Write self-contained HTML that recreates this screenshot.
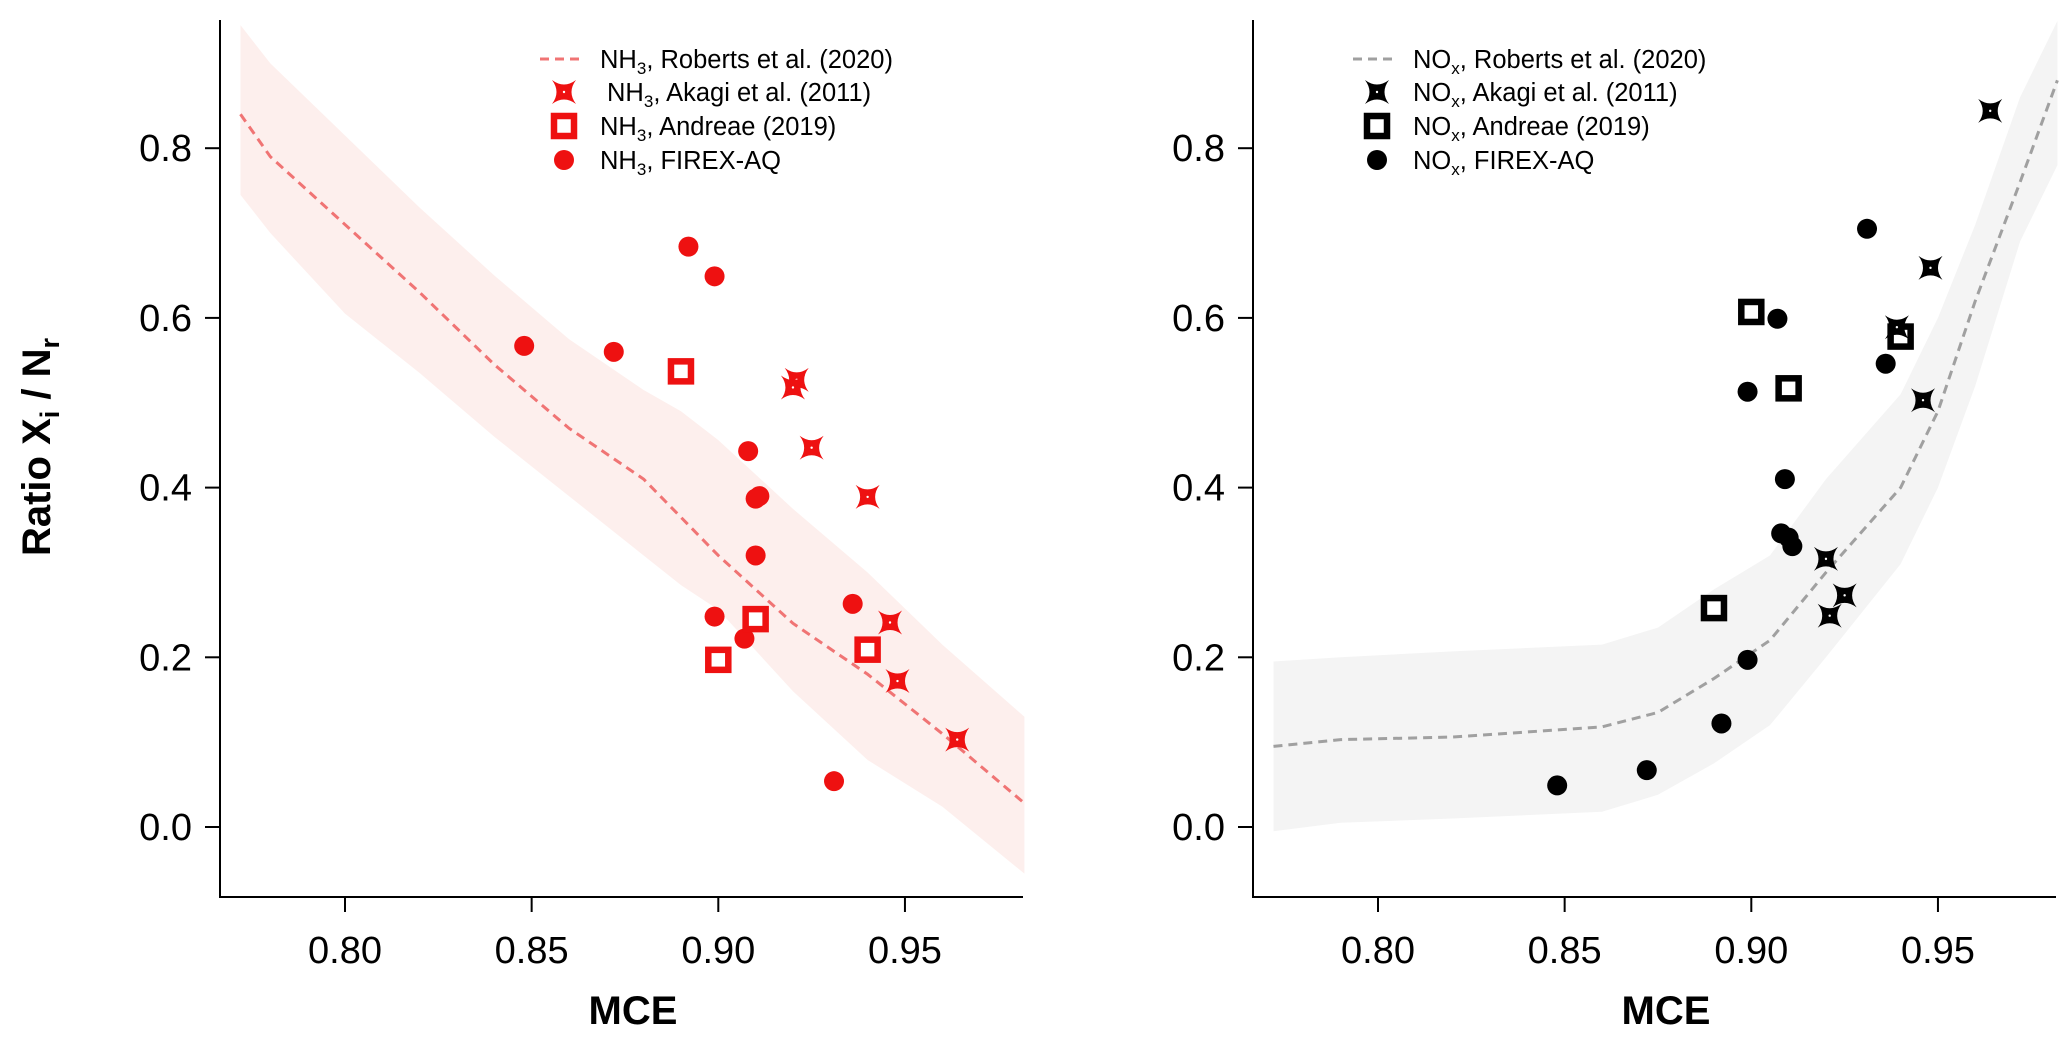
<!DOCTYPE html>
<html><head><meta charset="utf-8">
<style>
html,body{margin:0;padding:0;background:#fff;}
svg{display:block;font-family:"Liberation Sans",Arial,sans-serif;}
</style></head>
<body>
<svg id="chart" width="2067" height="1038" viewBox="0 0 2067 1038" xmlns="http://www.w3.org/2000/svg"></svg>
<script>
// ---- data: NH3 panel ----
const nh3CircX = [0.848,0.872,0.892,0.899,0.908,0.911,0.910,0.910,0.899,0.907,0.936,0.931];
const nh3CircY = [0.567,0.560,0.684,0.649,0.443,0.390,0.387,0.320,0.248,0.222,0.263,0.054];
const nh3SqX = [0.890,0.900,0.910,0.940];
const nh3SqY = [0.537,0.197,0.245,0.209];
const nh3StarX = [0.921,0.920,0.925,0.940,0.946,0.948,0.964];
const nh3StarY = [0.527,0.518,0.447,0.389,0.241,0.172,0.103];
const nh3LineX = [0.772,0.78,0.80,0.82,0.84,0.86,0.88,0.89,0.90,0.92,0.94,0.96,0.982];
const nh3LineY = [0.84,0.79,0.71,0.63,0.545,0.47,0.41,0.365,0.32,0.24,0.18,0.11,0.028];
const nh3BandHi = [0.945,0.90,0.815,0.73,0.65,0.575,0.515,0.49,0.456,0.375,0.30,0.215,0.13];
const nh3BandLo = [0.745,0.70,0.605,0.535,0.46,0.39,0.32,0.285,0.256,0.16,0.079,0.024,-0.055];
// ---- data: NOx panel ----
const noxCircX = [0.848,0.872,0.892,0.899,0.899,0.907,0.909,0.908,0.910,0.911,0.931,0.936];
const noxCircY = [0.049,0.067,0.122,0.197,0.513,0.599,0.410,0.346,0.341,0.331,0.705,0.546];
const noxSqX = [0.890,0.900,0.910,0.940];
const noxSqY = [0.258,0.607,0.517,0.578];
const noxStarX = [0.920,0.921,0.925,0.939,0.946,0.948,0.964];
const noxStarY = [0.316,0.249,0.273,0.589,0.503,0.659,0.844];
const noxLineX = [0.772,0.79,0.82,0.86,0.875,0.89,0.905,0.92,0.94,0.95,0.96,0.972,0.982];
const noxLineY = [0.095,0.103,0.106,0.118,0.135,0.175,0.22,0.30,0.40,0.49,0.62,0.76,0.88];
const noxBandHi = [0.195,0.20,0.207,0.215,0.235,0.28,0.32,0.41,0.51,0.60,0.71,0.86,0.95];
const noxBandLo = [-0.005,0.005,0.01,0.018,0.038,0.075,0.12,0.20,0.31,0.40,0.52,0.69,0.78];
// ---- ticks ----
const xTicks = [0.80,0.85,0.90,0.95];
const xTickLabels = ["0.80","0.85","0.90","0.95"];
const yTicks = [0.0,0.2,0.4,0.6,0.8];
const yTickLabels = ["0.0","0.2","0.4","0.6","0.8"];

const NS="http://www.w3.org/2000/svg";
const svg=document.getElementById('chart');
function mk(tag,attrs,parent){const e=document.createElementNS(NS,tag);for(const k in attrs)e.setAttribute(k,attrs[k]);(parent||svg).appendChild(e);return e;}

function panel(ox,cfg){
  const g=mk('g',{});
  
  
  const xs=v=>ox+345+(v-0.80)*3733;
  const ys=v=>827-v*848.5;
  let d='';
  cfg.lx.forEach((x,i)=>{d+=(i?'L':'M')+xs(x)+','+ys(cfg.hi[i]);});
  for(let i=cfg.lx.length-1;i>=0;i--)d+='L'+xs(cfg.lx[i])+','+ys(cfg.lo[i]);
  const band=mk('path',{d:d+'Z',fill:cfg.band},g);
  
  
  let ld='';
  cfg.lx.forEach((x,i)=>{ld+=(i?'L':'M')+xs(x)+','+ys(cfg.ly[i]);});
  const line=mk('path',{d:ld,fill:'none',stroke:cfg.lineC,'stroke-width':3,'stroke-dasharray':'9,6'},g);
  
  
  const ax=mk('path',{d:`M${ox+220},20L${ox+220},897L${ox+1023},897`,fill:'none',stroke:'#000','stroke-width':2},g);
  
  
  xTicks.forEach((t,i)=>{
    mk('line',{x1:xs(t),x2:xs(t),y1:897,y2:912,stroke:'#000','stroke-width':2},g);
    const tx=mk('text',{x:xs(t),y:963,'font-size':38,'text-anchor':'middle',fill:'#000'},g);
    tx.textContent=xTickLabels[i];
    
    
  });
  yTicks.forEach((t,i)=>{
    mk('line',{x1:ox+205,x2:ox+220,y1:ys(t),y2:ys(t),stroke:'#000','stroke-width':2},g);
    const tx=mk('text',{x:ox+192,y:ys(t)+13,'font-size':38,'text-anchor':'end',fill:'#000'},g);
    tx.textContent=yTickLabels[i];
    
    
  });
  const xt=mk('text',{x:ox+633,y:1024,'font-size':40,'font-weight':'bold','text-anchor':'middle'},g);
  xt.textContent='MCE';
  
  
  const col=cfg.mc;
  const circ=(x,y,p)=>mk('circle',{cx:x,cy:y,r:10,fill:col},p);
  const sq=(x,y,p)=>mk('rect',{x:x-10,y:y-10,width:20,height:20,fill:'#fff',stroke:col,'stroke-width':6.5},p);
  const star=(x,y,p)=>{const r=12,c=3;
    const s=mk('path',{d:`M${x-r},${y-r}Q${x},${y-c} ${x+r},${y-r}Q${x+c},${y} ${x+r},${y+r}Q${x},${y+c} ${x-r},${y+r}Q${x-c},${y} ${x-r},${y-r}Z`,fill:col},p);
    mk('circle',{cx:x,cy:y,r:1.2,fill:'#fff'},p);return s;};
  cfg.cx.forEach((v,i)=>{const e=circ(xs(v),ys(cfg.cy[i]),g);});
  cfg.sx.forEach((v,i)=>{const e=sq(xs(v),ys(cfg.sy[i]),g);});
  cfg.tx.forEach((v,i)=>{const e=star(xs(v),ys(cfg.ty[i]),g);});
  const lg=mk('g',{},g);
  
  
  const lx=ox+cfg.legX, rows=[59,92,126,160];
  mk('line',{x1:lx,x2:lx+42,y1:rows[0],y2:rows[0],stroke:cfg.lineC,'stroke-width':3,'stroke-dasharray':'9,6'},lg);
  star(lx+24,rows[1],lg); sq(lx+24,rows[2],lg); circ(lx+24,rows[3],lg);
  const labels=[', Roberts et al. (2020)',', Akagi et al. (2011)',', Andreae (2019)',', FIREX-AQ'];
  labels.forEach((l,i)=>{
    const t=mk('text',{x:lx+60+(cfg.sp&&i===1?7:0),y:rows[i]+9,'font-size':25.5,fill:'#000'},lg);
    
    
    t.appendChild(document.createTextNode(cfg.sp_name));
    const sub=mk('tspan',{'font-size':17,dy:6},t);sub.textContent=cfg.sub;
    const r=mk('tspan',{dy:-6},t);r.textContent=l;
  });
}
panel(0,{name:'nh3-panel',band:'#fdefed',lineC:'#f07474',mc:'#ee1111',legX:540,sp:true,sp_name:'NH',sub:'3',
  lx:nh3LineX,ly:nh3LineY,hi:nh3BandHi,lo:nh3BandLo,cx:nh3CircX,cy:nh3CircY,sx:nh3SqX,sy:nh3SqY,tx:nh3StarX,ty:nh3StarY});
panel(1033,{name:'nox-panel',band:'#f4f4f4',lineC:'#a0a0a0',mc:'#000',legX:320,sp:false,sp_name:'NO',sub:'x',
  lx:noxLineX,ly:noxLineY,hi:noxBandHi,lo:noxBandLo,cx:noxCircX,cy:noxCircY,sx:noxSqX,sy:noxSqY,tx:noxStarX,ty:noxStarY});
const yt=mk('text',{transform:'translate(50,447) rotate(-90)','font-size':40,'font-weight':'bold','text-anchor':'middle'});


yt.appendChild(document.createTextNode('Ratio X'));
const s1=mk('tspan',{'font-size':27,dy:9},yt);s1.textContent='i';
const s2=mk('tspan',{dy:-9},yt);s2.textContent=' / N';
const s3=mk('tspan',{'font-size':27,dy:9},yt);s3.textContent='r';
</script>
</body></html>
